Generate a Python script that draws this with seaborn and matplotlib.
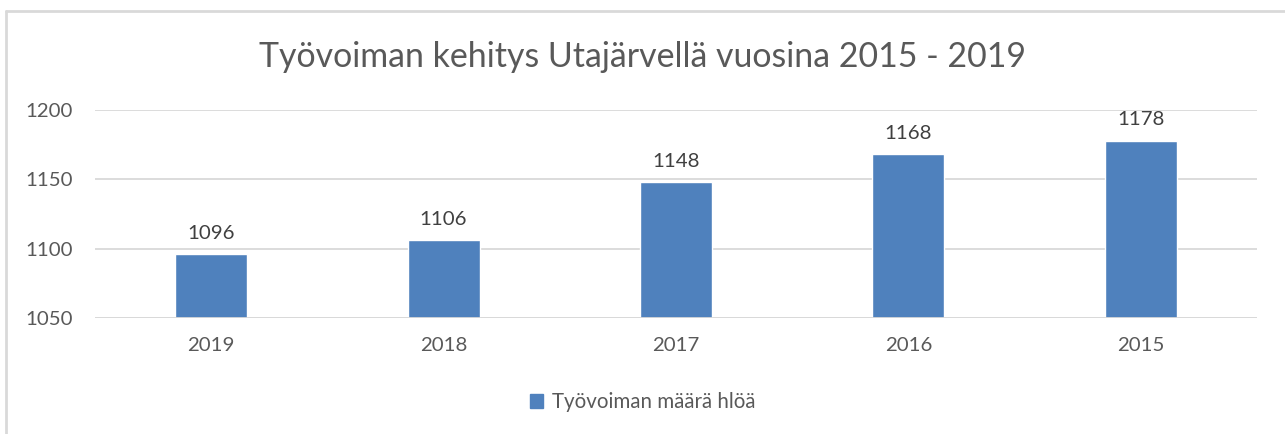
import matplotlib
matplotlib.use("Agg")
import matplotlib.pyplot as plt
from matplotlib.lines import Line2D
import matplotlib.patches as mpatches
import seaborn as sns
import pandas as pd

years = ["2019", "2018", "2017", "2016", "2015"]
workforce = [1096, 1106, 1148, 1168, 1178]
series_name = "Työvoiman määrä hlöä"
title = "Työvoiman kehitys Utajärvellä vuosina 2015 - 2019"

sns.set_theme(style="white")
plt.rcParams["font.family"] = ["Lato", "DejaVu Sans"]

BLUE = "#4F81BD"
TXT = "#595959"
GRID = "#D9D9D9"

df = pd.DataFrame({"year": years, "value": workforce})

fig = plt.figure(figsize=(12.85, 4.34), dpi=100)
ax = fig.add_axes([95 / 1285, 1 - 318 / 434, 1162 / 1285, 208 / 434])

sns.barplot(data=df, x="year", y="value", color=BLUE, width=0.31,
            saturation=1, ax=ax, zorder=3)
ax.set_ylim(1050, 1200)
ax.set_yticks([1050, 1100, 1150, 1200])
ax.grid(axis="y", color=GRID, lw=1.3, zorder=0)
for s in ax.spines.values():
    s.set_visible(False)
ax.axhline(1050, color=GRID, lw=1.3, zorder=4)
ax.set_xlabel("")
ax.set_ylabel("")
ax.tick_params(axis="both", length=0, labelsize=14.7, colors=TXT)
ax.tick_params(axis="x", pad=14)
ax.tick_params(axis="y", pad=16)

for i, v in enumerate(workforce):
    ax.annotate(str(v), (i, v), xytext=(0, 9), textcoords="offset points",
                ha="center", va="bottom", fontsize=14.7, color="#404040")

fig.text(0.5, 1 - 57 / 434, title, ha="center", va="center", fontsize=24.4, color=TXT)

handle = mpatches.Patch(color=BLUE, label=series_name)
fig.legend(handles=[handle], loc="center", bbox_to_anchor=(0.5, 1 - 402 / 434),
           frameon=False, fontsize=14.8, labelcolor=TXT, handlelength=0.65,
           handleheight=0.65, handletextpad=0.4)

# outer chart border (top and left only visible)
fig.add_artist(Line2D([6 / 1285, 6 / 1285], [0, 1 - 10.5 / 434],
                      transform=fig.transFigure, color=GRID, lw=2))
fig.add_artist(Line2D([6 / 1285, 1], [1 - 10.5 / 434, 1 - 10.5 / 434],
                      transform=fig.transFigure, color=GRID, lw=2))

fig.savefig("out.png", dpi=100)
